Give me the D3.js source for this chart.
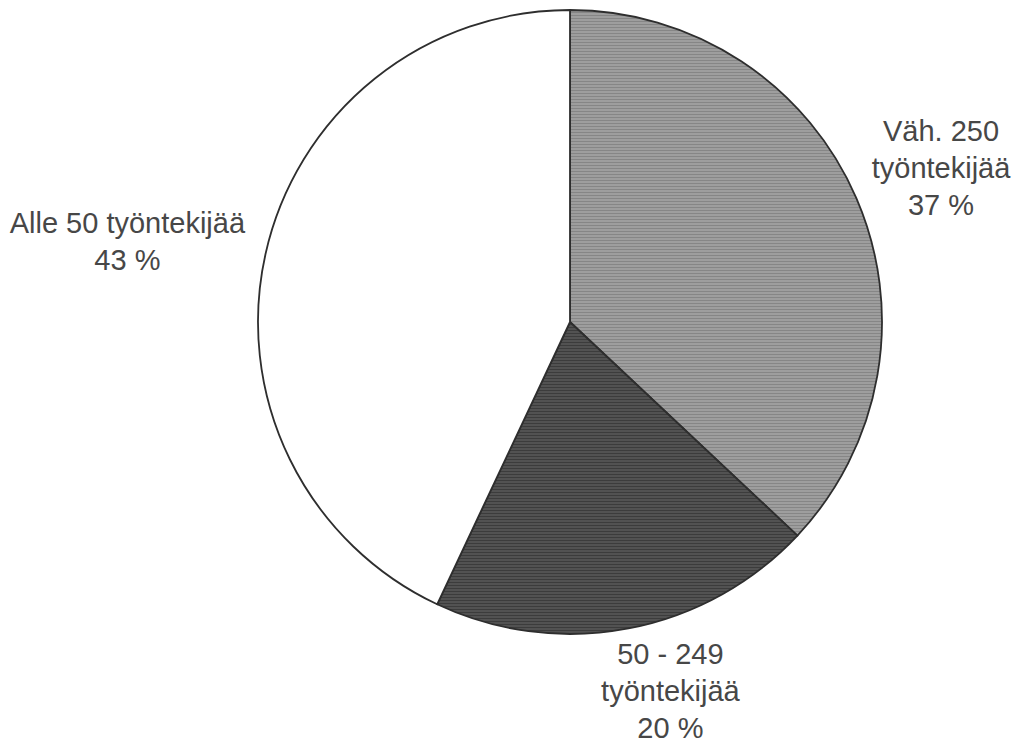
<!DOCTYPE html>
<html>
<head>
<meta charset="utf-8">
<script src="https://cdn.jsdelivr.net/npm/d3@7"></script>
<style>
  body { margin: 0; background: #fff; }
  text { font-family: "Liberation Sans", Arial, sans-serif; font-size: 29px; fill: #474747; }
</style>
</head>
<body>
<script>
// slices clockwise from 12 o'clock
const categories = ["Väh. 250 työntekijää", "50 - 249 työntekijää", "Alle 50 työntekijää"];
const values = [37, 20, 43];
const labelLines = [["Väh. 250", "työntekijää"], ["50 - 249", "työntekijää"], ["Alle 50 työntekijää"]];

const width = 1013, height = 743;
const cx = 570, cy = 322, radius = 312;
const lineH = 37;

const svg = d3.select("body").append("svg")
  .attr("width", width)
  .attr("height", height);

// halftone-ish fills, horizontal scan lines
const defs = svg.append("defs");
function stripes(id, base, line) {
  const p = defs.append("pattern")
    .attr("id", id)
    .attr("patternUnits", "userSpaceOnUse")
    .attr("width", 4).attr("height", 3);
  p.append("rect").attr("width", 4).attr("height", 3).attr("fill", base);
  p.append("rect").attr("y", 2).attr("width", 4).attr("height", 1).attr("fill", line);
}
stripes("light", "#9e9e9e", "#868686");
stripes("dark", "#525252", "#3c3c3c");

const fills = d3.scaleOrdinal()
  .domain(categories)
  .range(["url(#light)", "url(#dark)", "#ffffff"]);

const pie = d3.pie().sort(null).value(d => d.value);
const data = categories.map((c, i) => ({ name: c, value: values[i], lines: labelLines[i] }));
const arcs = pie(data);

const arc = d3.arc().innerRadius(0).outerRadius(radius);
const labelArc = d3.arc().innerRadius(radius + 23).outerRadius(radius + 23);

// the bottom label sits a little right of its slice's middle in the original
const labelNudge = { "50 - 249 työntekijää": [25, -12] };

const g = svg.append("g").attr("transform", `translate(${cx},${cy})`);

g.selectAll("path.slice")
  .data(arcs)
  .join("path")
  .attr("class", "slice")
  .attr("d", arc)
  .attr("fill", d => fills(d.data.name))
  .attr("stroke", "#2e2e2e")
  .attr("stroke-width", 1.8)
  .attr("stroke-linejoin", "round");

const labels = g.selectAll("g.label")
  .data(arcs)
  .join("g")
  .attr("class", "label");

labels.each(function(d) {
  const t = d3.select(this).append("text").attr("text-anchor", "middle");
  const lines = d.data.lines.concat([d.data.value + " %"]);
  lines.forEach((s, i) => {
    t.append("tspan").attr("x", 0).attr("y", i * lineH).text(s);
  });
  // push the block outward so its near edge sits on the label arc
  const bb = this.getBBox();
  const mid = (d.startAngle + d.endAngle) / 2;
  const [px, py] = labelArc.centroid(d);
  const [nx, ny] = labelNudge[d.data.name] || [0, 0];
  const bx = px + Math.sin(mid) * bb.width / 2 + nx;
  const by = py - Math.cos(mid) * bb.height / 2 + ny;
  const ox = bx - (bb.x + bb.width / 2);
  const oy = by - (bb.y + bb.height / 2);
  d3.select(this).attr("transform", `translate(${ox},${oy})`);
});
</script>
</body>
</html>
